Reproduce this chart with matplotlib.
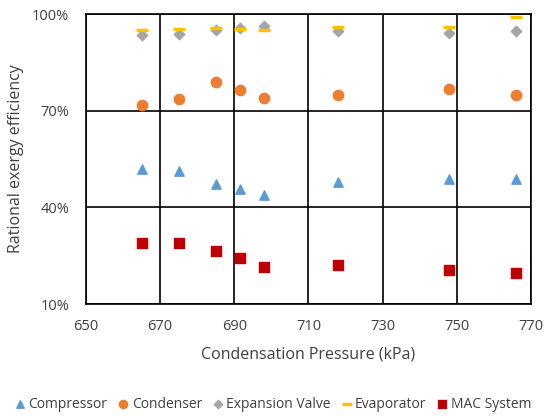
import matplotlib
matplotlib.use("Agg")
import matplotlib.pyplot as plt
from matplotlib.ticker import FuncFormatter

pressure = [665, 675, 685, 691.5, 698, 718, 748, 766]
compressor = [51.9, 51.2, 47.2, 45.7, 43.9, 47.8, 48.8, 48.8]
condenser = [71.8, 73.6, 79.0, 76.4, 74.1, 74.9, 76.7, 74.9]
expansion_valve = [93.5, 93.8, 95.1, 95.7, 96.2, 94.8, 94.3, 94.8]
evaporator = [95.0, 95.3, 95.7, 95.3, 95.1, 96.1, 96.1, 99.2]
mac_system = [29.1, 28.9, 26.5, 24.2, 21.6, 22.0, 20.6, 19.8]

plt.rcParams["font.family"] = ["Open Sans", "DejaVu Sans"]
txt = "#404040"

fig = plt.figure(figsize=(5.46, 4.16), dpi=100)
ax = fig.add_axes([0.1575, 0.269, 0.815, 0.697])

ax.scatter(pressure, compressor, marker="^", s=45, color="#5B9BD5", label="Compressor", zorder=3)
ax.scatter(pressure, condenser, marker="o", s=55, color="#ED7D31", label="Condenser", zorder=3)
ax.scatter(pressure, expansion_valve, marker="D", s=28, color="#A5A5A5", label="Expansion Valve", zorder=3)
ax.scatter(pressure, evaporator, marker="_", s=80, linewidths=2.5, color="#FFC000", label="Evaporator", zorder=3)
ax.scatter(pressure, mac_system, marker="s", s=45, color="#C00000", label="MAC System", zorder=3)

ax.set_xlim(650, 770)
ax.set_ylim(10, 100)
ax.set_xticks(range(650, 771, 20))
ax.set_yticks([10, 40, 70, 100])
ax.yaxis.set_major_formatter(FuncFormatter(lambda v, p: f"{v:.0f}%"))
ax.grid(True, color="black", linewidth=1.2)
ax.set_axisbelow(True)
for s in ax.spines.values():
    s.set_color("black")
    s.set_linewidth(1.2)
ax.tick_params(length=0, labelsize=10.5, labelcolor=txt)
ax.tick_params(axis="x", pad=11)
ax.tick_params(axis="y", pad=12)

ax.set_xlabel("Condensation Pressure (kPa)", fontsize=11.5, color=txt, labelpad=9)
ax.set_ylabel("Rational exergy efficiency", fontsize=11.5, color=txt, labelpad=6)

fig.legend(loc="center", bbox_to_anchor=(0.5, 1 - 404 / 416), ncol=5, frameon=False,
           fontsize=10, handlelength=0.8, handletextpad=0.2, columnspacing=0.75,
           labelcolor=txt, markerscale=0.8, borderpad=0)

fig.savefig("out.png", dpi=100)
